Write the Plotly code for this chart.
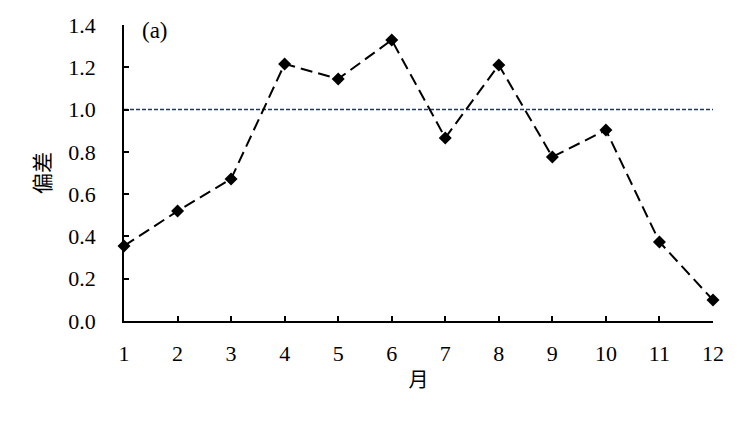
import plotly.graph_objects as go

months = [1, 2, 3, 4, 5, 6, 7, 8, 9, 10, 11, 12]
deviation = [0.355, 0.52, 0.672, 1.216, 1.145, 1.329, 0.866, 1.211, 0.776, 0.903, 0.374, 0.099]
reference_level = 1.0
y_ticks = [0.0, 0.2, 0.4, 0.6, 0.8, 1.0, 1.2, 1.4]
y_tick_labels = ["0.0", "0.2", "0.4", "0.6", "0.8", "1.0", "1.2", "1.4"]

fig = go.Figure()
fig.add_trace(go.Scatter(
    x=[months[0], months[-1]], y=[reference_level, reference_level],
    mode="lines", line=dict(color="#203864", width=1.4, dash="4px,2px"),
    hoverinfo="skip", showlegend=False, cliponaxis=False))
fig.add_trace(go.Scatter(
    x=months, y=deviation, mode="lines+markers",
    line=dict(color="black", width=2, dash="12px,6px"),
    marker=dict(symbol="diamond", size=10, color="black"),
    showlegend=False, cliponaxis=False))

fig.update_layout(
    width=742, height=417,
    margin=dict(l=116, r=37, t=17, b=104, autoexpand=False),
    paper_bgcolor="white", plot_bgcolor="white",
    font=dict(family="Liberation Serif, Times New Roman, serif", size=22, color="black"),
    xaxis=dict(range=[1, 12], tickmode="array", tickvals=months,
               ticktext=[str(m) for m in months], automargin=False,
               showline=True, linecolor="black", linewidth=1.8,
               ticks="inside", ticklen=5, tickwidth=1.5, tickcolor="black",
               showgrid=False, zeroline=False, ticklabelstandoff=12,
               title=dict(text="月", font=dict(family="Noto Sans CJK SC", size=20), standoff=8)),
    yaxis=dict(range=[0, 1.4], tickmode="array", tickvals=y_ticks, ticktext=y_tick_labels,
               automargin=False,
               showline=True, linecolor="black", linewidth=1.8,
               ticks="inside", ticklen=5, tickwidth=1.5, tickcolor="black",
               showgrid=False, zeroline=False, ticklabelstandoff=22,
               title=dict(text="偏差", font=dict(family="Noto Sans CJK SC", size=21), standoff=12)),
    annotations=[dict(text="(a)", x=0.027, y=1.03, xref="paper", yref="paper",
                      xanchor="left", yanchor="top", showarrow=False,
                      font=dict(family="Liberation Serif, serif", size=23))],
)

fig.write_html("out.html")
